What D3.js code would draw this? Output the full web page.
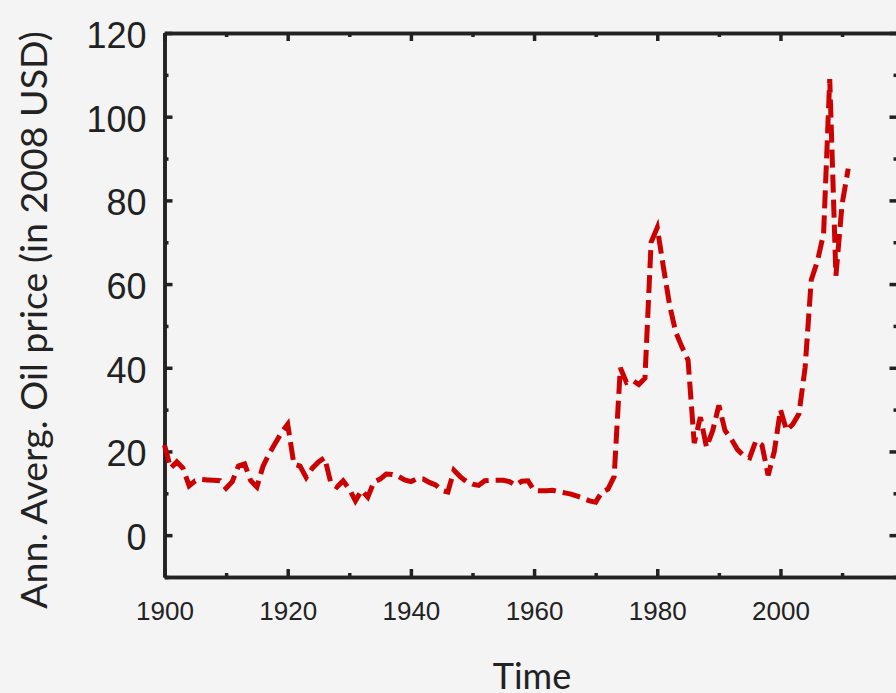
<!DOCTYPE html>
<html>
<head>
<meta charset="utf-8">
<script src="https://cdn.jsdelivr.net/npm/d3@7"></script>
<style>
  html, body { margin: 0; padding: 0; background: #f4f4f4; }
  svg { display: block; font-family: Lato, 'Open Sans', sans-serif; }
  .ax path, .ax line { stroke: #222; }
  .ax text { fill: #222; }
</style>
</head>
<body>
<svg id="chart" width="896" height="693"></svg>
<script>
// annual average oil price, 2008 USD
const years = d3.range(1900, 2012);
const prices = [
  21.5, 16, 17.5, 16, 11.8, 13, 13.3, 13.2, 13.1, 13,          // 1900s
  11.2, 12.8, 16.5, 17, 13, 11.5, 16.5, 19.5, 22, 24.5,         // 1910s
  26.5, 17, 16.5, 13.8, 16, 17.5, 18.5, 12.5, 11.5, 13,         // 1920s
  11, 8.2, 10.7, 9.1, 12.7, 13.4, 14.6, 14.5, 14, 13.2,         // 1930s
  12.8, 13.5, 13.4, 12.6, 12, 10.7, 10.3, 15.5, 14, 12.8,       // 1940s
  12.2, 11.9, 13, 13.1, 13.1, 13.1, 12.8, 11.9, 12.9, 13,       // 1950s
  10.7, 10.6, 10.6, 10.7, 10.4, 10.1, 9.8, 9.3, 8.8, 8.2,       // 1960s
  7.9, 10.3, 11, 14, 40, 36.5, 37, 36, 37.5, 70,                // 1970s
  73.5, 64, 55, 48.5, 45, 41.8, 22, 28.2, 21, 25,               // 1980s
  31, 25, 23, 20.5, 19, 18.5, 22.5, 21.5, 14.3, 20,             // 1990s
  30, 25, 26.5, 29, 40, 61, 65.5, 72, 109, 62,                  // 2000s
  79, 87.6                                                      // 2010s
];
const data = years.map((y, i) => ({ year: y, value: prices[i] }));

const xMajor = [1900, 1920, 1940, 1960, 1980, 2000];
const xMinor = [1910, 1930, 1950, 1970, 1990, 2010];
const yMajor = [0, 20, 40, 60, 80, 100, 120];
const yMinor = [-10, 10, 30, 50, 70, 90, 110];

const svg = d3.select('#chart');
const L = 164.5, R = 897.5, T = 33, B = 577;

const x = d3.scaleLinear().domain([1900, 2019]).range([L, R]);
const y = d3.scaleLinear().domain([-10, 120]).range([B, T]);

function ax(gen, tr, vals, size, fmt, pad = 3) {
  const g = svg.append('g').attr('class', 'ax').attr('transform', tr)
    .call(gen.tickValues(vals).tickSize(size).tickSizeOuter(0).tickPadding(pad).tickFormat(fmt));
  g.selectAll('path').attr('stroke-width', 3.5);
  g.selectAll('line').attr('stroke-width', 3.5);
  return g;
}

// bottom + top
const bx = ax(d3.axisBottom(x), `translate(0,${B})`, xMajor, -8, d3.format('d'), 20);
bx.selectAll('text').attr('font-size', 26).attr('dy', '0.9em');
ax(d3.axisBottom(x), `translate(0,${B})`, xMinor, -4, '');
ax(d3.axisTop(x), `translate(0,${T})`, xMajor, -8, '');
ax(d3.axisTop(x), `translate(0,${T})`, xMinor, -4, '');

// left + right
const ly = ax(d3.axisLeft(y), `translate(${L},0)`, yMajor, -8, d3.format('d'), 18);
ly.selectAll('text').attr('font-size', 36).attr('dy', '0.4em');
ax(d3.axisLeft(y), `translate(${L},0)`, yMinor, -4, '');
ax(d3.axisRight(y), `translate(${R},0)`, yMajor, -8, '');
ax(d3.axisRight(y), `translate(${R},0)`, yMinor, -4, '');

// the series
const line = d3.line().x(d => x(d.year)).y(d => y(d.value));
svg.append('path').datum(data)
  .attr('fill', 'none')
  .attr('stroke', '#cc0000')
  .attr('stroke-width', 5)
  .attr('stroke-dasharray', '18,7')
  .attr('d', line);

// titles
svg.append('text').attr('x', 532).attr('y', 689).attr('text-anchor', 'middle')
  .attr('font-size', 36).attr('fill', '#222').text('Time');
svg.append('text').attr('transform', 'translate(47,320) rotate(-90)').attr('text-anchor', 'middle')
  .attr('font-size', 37.5).attr('fill', '#222').text('Ann. Averg. Oil price (in 2008 USD)');
</script>
</body>
</html>
